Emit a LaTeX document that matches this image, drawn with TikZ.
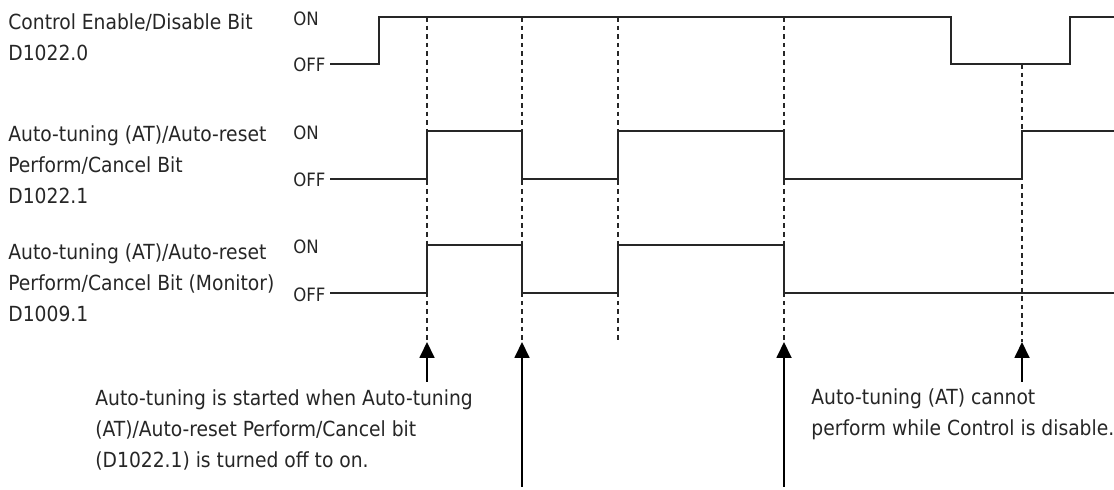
\documentclass[tikz,border=0pt]{standalone}
\usepackage{fontspec}
\setmainfont{DejaVu Sans Condensed}
\usetikzlibrary{arrows.meta}
\begin{document}
\begin{tikzpicture}[x=0.5pt, y=-0.5pt,
    lbl/.style={anchor=west, align=left, inner sep=0pt, font=\fontsize{10.4}{15.5}\selectfont, text=black!85},
    lvl/.style={anchor=west, inner sep=0pt, font=\fontsize{9.2}{10}\selectfont, text=black!85},
    sig/.style={line width=1.2pt, draw=black!85, line join=miter},
    guide/.style={line width=0.6pt, draw=black!85, dash pattern=on 2.3pt off 2pt},
    pointer/.style={-{Triangle[length=8pt, width=7.5pt]}, line width=0.9pt, draw=black},
]
\useasboundingbox (0,0) rectangle (1114,490);
\node[lbl] (ctrl) at (8,37.5) {Control Enable/Disable Bit\\D1022.0};
\node[lbl] (atbit) at (8,165) {Auto-tuning (AT)/Auto-reset\\Perform/Cancel Bit\\D1022.1};
\node[lbl] (atmon) at (8,283) {Auto-tuning (AT)/Auto-reset\\Perform/Cancel Bit (Monitor)\\D1009.1};
\node[lvl] (on1) at (293,19) {ON};
\node[lvl] (off1) at (293,65) {OFF};
\node[lvl] (on2) at (293,133) {ON};
\node[lvl] (off2) at (293,180) {OFF};
\node[lvl] (on3) at (293,247) {ON};
\node[lvl] (off3) at (293,295) {OFF};
\draw[sig] (330,64) -- (379,64) -- (379,17) -- (951,17) -- (951,64) -- (1070,64) -- (1070,17) -- (1114,17);
\draw[sig] (330,179) -- (427,179) -- (427,131) -- (522,131) -- (522,179) -- (618,179) -- (618,131) -- (784,131) -- (784,179) -- (1022,179) -- (1022,131) -- (1114,131);
\draw[sig] (330,293) -- (427,293) -- (427,245) -- (522,245) -- (522,293) -- (618,293) -- (618,245) -- (784,245) -- (784,293) -- (1114,293);
\coordinate (g1) at (427,17);
\coordinate (g2) at (522,17);
\coordinate (g3) at (618,17);
\coordinate (g4) at (784,17);
\coordinate (g5) at (1022,64);
\coordinate (t1) at (427,342);
\coordinate (t2) at (522,342);
\coordinate (t3) at (618,342);
\coordinate (t4) at (784,342);
\coordinate (t5) at (1022,342);
\coordinate (b1) at (427,382);
\coordinate (b2) at (522,487);
\coordinate (b4) at (784,487);
\coordinate (b5) at (1022,382);
\draw[guide] (g1) -- (t1);
\draw[guide] (g2) -- (t2);
\draw[guide] (g3) -- (t3);
\draw[guide] (g4) -- (t4);
\draw[guide] (g5) -- (t5);
\draw[pointer] (b1) -- (t1);
\draw[pointer] (b2) -- (t2);
\draw[pointer] (b4) -- (t4);
\draw[pointer] (b5) -- (t5);
\node[lbl] (start) at (95,430) {Auto-tuning is started when Auto-tuning\\(AT)/Auto-reset Perform/Cancel bit\\(D1022.1) is turned off to on.};
\node[lbl] (block) at (811,414) {Auto-tuning (AT) cannot\\perform while Control is disable.};
\end{tikzpicture}
\end{document}
